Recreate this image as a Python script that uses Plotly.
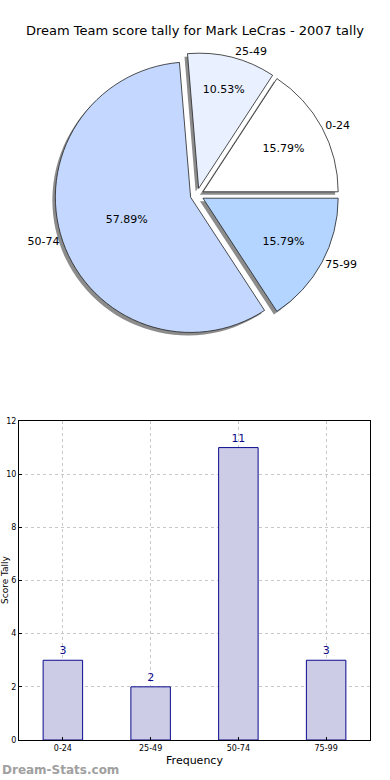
import plotly.graph_objects as go

title_text = "Dream Team score tally for Mark LeCras - 2007 tally"
categories = ["0-24", "25-49", "50-74", "75-99"]
counts = [3, 2, 11, 3]
pie_colors = ["#FFFFFF", "#E9F0FF", "#C4D8FF", "#B3D5FF"]
y_ticks = [0, 2, 4, 6, 8, 10, 12]

W, H = 390, 780
FONT = "DejaVu Sans"

def px_x(v):
    return v / W

def px_y(v):
    return 1 - v / H

# first slice starts at 3 o'clock and runs counterclockwise (matplotlib default)
start_rot = 90 - 360 * counts[0] / sum(counts)

# pie geometry (pixels)
cx, cy, half = 197, 195, 142
pull = [0.05] * len(counts)
dom_x = [px_x(cx - half), px_x(cx + half)]
dom_y = [px_y(cy + half), px_y(cy - half)]
sh = 3
shadow_x = [px_x(cx - half - sh), px_x(cx + half - sh)]
shadow_y = [px_y(cy + half + sh), px_y(cy - half + sh)]

common = dict(labels=categories, values=counts, sort=False,
              direction="counterclockwise", rotation=start_rot, pull=pull,
              showlegend=False)

fig = go.Figure()

# shadow
fig.add_trace(go.Pie(
    **common, domain=dict(x=shadow_x, y=shadow_y),
    marker=dict(colors=["#8C8C8C"] * 4, line=dict(width=0)),
    textinfo="none", hoverinfo="skip",
))
# main pie with percentages
fig.add_trace(go.Pie(
    **common, domain=dict(x=dom_x, y=dom_y),
    marker=dict(colors=pie_colors, line=dict(color="#222222", width=0.8)),
    texttemplate="%{percent:.2%}", textposition="inside",
    insidetextorientation="horizontal",
    textfont=dict(family=FONT, size=11, color="black"),
))
# outside labels
fig.add_trace(go.Pie(
    **common, domain=dict(x=dom_x, y=dom_y),
    marker=dict(colors=["rgba(0,0,0,0)"] * 4, line=dict(width=0)),
    texttemplate="%{label}", textposition="outside",
    textfont=dict(family=FONT, size=11, color="black"),
    hoverinfo="skip",
))

# bar chart
fig.add_trace(go.Bar(
    x=categories, y=counts, width=0.45,
    marker=dict(color="#CCCCE6", line=dict(color="#0A0A8C", width=1)),
    text=[str(c) for c in counts], textposition="outside",
    textfont=dict(family=FONT, size=11, color="#0A0A8C"),
    cliponaxis=False, showlegend=False,
))

fig.update_layout(
    width=W, height=H, margin=dict(l=0, r=0, t=0, b=0, autoexpand=False),
    paper_bgcolor="white", plot_bgcolor="white",
    font=dict(family=FONT, color="black"),
    title=dict(text=title_text, x=0.5, xanchor="center", y=px_y(30), yanchor="middle",
               font=dict(family=FONT, size=13, color="black")),
    xaxis=dict(domain=[px_x(19), px_x(370)], range=[-0.5, 3.5], automargin=False,
               showline=True, mirror=True, linecolor="black", linewidth=1,
               showgrid=True, gridcolor="#C8C8C8", griddash="dot", gridwidth=1,
               ticks="inside", ticklen=3, tickcolor="black",
               tickfont=dict(family=FONT, size=8), zeroline=False,
               title=dict(text="Frequency", font=dict(family=FONT, size=11), standoff=4)),
    yaxis=dict(domain=[px_y(740), px_y(421)], range=[0, 12], tickvals=y_ticks,
               automargin=False,
               showline=True, mirror=True, linecolor="black", linewidth=1,
               showgrid=True, gridcolor="#C8C8C8", griddash="dot", gridwidth=1,
               ticks="inside", ticklen=3, tickcolor="black",
               tickfont=dict(family=FONT, size=8), zeroline=False),
)

fig.add_annotation(text="Score Tally", xref="paper", yref="paper",
                   x=px_x(5), xanchor="center", y=px_y(580), yanchor="middle",
                   textangle=-90, showarrow=False,
                   font=dict(family=FONT, size=9, color="black"))
fig.add_annotation(text="<b>Dream-Stats.com</b>", xref="paper", yref="paper",
                   x=0, xanchor="left", y=px_y(770), yanchor="middle", showarrow=False,
                   font=dict(family=FONT, size=12, color="#A0A0A0"))

fig.write_html("out.html", config={"displayModeBar": False},
               post_script="document.body.style.margin='0';document.body.style.padding='0';")
